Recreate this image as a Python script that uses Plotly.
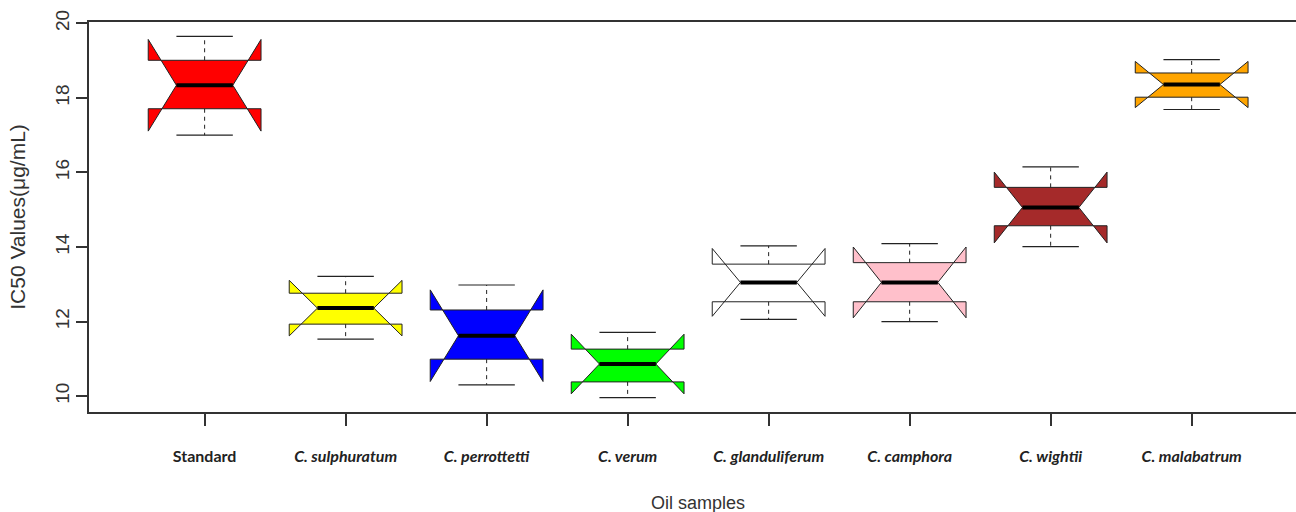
import plotly.graph_objects as go

# IC50 summary statistics per oil sample (µg/mL)
samples = ["Standard", "C. sulphuratum", "C. perrottetti", "C. verum",
           "C. glanduliferum", "C. camphora", "C. wightii", "C. malabatrum"]
whisker_low = [17.00, 11.53, 10.30, 9.96, 12.06, 12.00, 14.01, 17.69]
q1 = [17.71, 11.93, 10.99, 10.38, 12.53, 12.53, 14.57, 18.02]
median = [18.34, 12.36, 11.62, 10.86, 13.05, 13.05, 15.06, 18.36]
q3 = [19.01, 12.76, 12.31, 11.26, 13.54, 13.58, 15.60, 18.67]
whisker_high = [19.65, 13.21, 12.98, 11.71, 14.03, 14.09, 16.15, 19.03]
notch_half = [1.23, 0.745, 1.23, 0.80, 0.91, 0.95, 0.95, 0.62]
fills = ["#FF0000", "#FFFF00", "#0000FF", "#00FF00",
         "#FFFFFF", "#FFC0CB", "#A52A2A", "#FFA500"]

positions = list(range(1, len(samples) + 1))
BOX_W = 0.8        # full box width in axis units
CAP_HALF = 0.2     # half width of whisker caps and median bar
INK = "#222222"

fig = go.Figure()

# notched boxes (whiskers drawn separately as dashed lines)
for i, name in enumerate(samples):
    fig.add_trace(go.Box(
        x=[positions[i]], q1=[q1[i]], median=[median[i]], q3=[q3[i]],
        lowerfence=[q1[i]], upperfence=[q3[i]], notchspan=[notch_half[i]],
        notched=True, notchwidth=0.25, whiskerwidth=0, width=BOX_W,
        fillcolor=fills[i], line=dict(color=INK, width=1),
        name=name, showlegend=False, hoverinfo="skip",
    ))

# dashed whiskers
wx, wy = [], []
for i, p in enumerate(positions):
    wx += [p, p, None, p, p, None]
    wy += [q1[i], whisker_low[i], None, q3[i], whisker_high[i], None]
fig.add_trace(go.Scatter(x=wx, y=wy, mode="lines", showlegend=False,
                         hoverinfo="skip",
                         line=dict(color=INK, width=1, dash="4px,4px")))

# whisker caps
cx, cy = [], []
for i, p in enumerate(positions):
    for v in (whisker_low[i], whisker_high[i]):
        cx += [p - CAP_HALF, p + CAP_HALF, None]
        cy += [v, v, None]
fig.add_trace(go.Scatter(x=cx, y=cy, mode="lines", showlegend=False,
                         hoverinfo="skip", line=dict(color=INK, width=1.2)))

# heavy median bars
mx, my = [], []
for i, p in enumerate(positions):
    mx += [p - CAP_HALF, p + CAP_HALF, None]
    my += [median[i], median[i], None]
fig.add_trace(go.Scatter(x=mx, y=my, mode="lines", showlegend=False,
                         hoverinfo="skip", line=dict(color="black", width=4)))

# axis limits padded 4% like base graphics
lo, hi = min(whisker_low), max(whisker_high)
pad = 0.04 * (hi - lo)
x_lo = positions[0] - 0.5 - 0.04 * len(samples)

tick_text = ["<b>Standard</b>"] + [f"<b><i>{s}</i></b>" for s in samples[1:]]

fig.update_layout(
    width=1296, height=512,
    margin=dict(l=89, r=0, t=22, b=100),
    paper_bgcolor="white", plot_bgcolor="white",
    showlegend=False,
    xaxis=dict(
        range=[x_lo, 8.74], tickmode="array", tickvals=positions,
        ticktext=tick_text, ticks="outside", ticklen=12, tickcolor="#333",
        tickwidth=1.5, showline=True, mirror=True, linecolor="#333",
        linewidth=1.5, showgrid=False, zeroline=False,
        ticklabelstandoff=17,
        tickfont=dict(family="Lato, Open Sans, sans-serif", size=16,
                      color="#222"),
    ),
    yaxis=dict(
        range=[lo - pad, hi + pad], tickmode="array",
        tickvals=[10, 12, 14, 16, 18, 20], tickangle=-90,
        ticks="outside", ticklen=11, tickcolor="#333", tickwidth=1.5,
        showline=True, linecolor="#333", linewidth=1.5,
        showgrid=False, zeroline=False,
        tickfont=dict(family="Liberation Sans, Arial, sans-serif", size=19,
                      color="#333"),
        title=dict(text="IC50 Values(μg/mL)", standoff=20,
                   font=dict(family="Liberation Sans, Arial, sans-serif",
                             size=21, color="#333")),
    ),
    annotations=[dict(
        text="Oil samples", x=sum(positions) / len(positions), xref="x",
        y=-0.233, yref="paper", yanchor="middle", showarrow=False,
        font=dict(family="Liberation Sans Narrow, Arial Narrow, Liberation Sans, sans-serif",
                  size=18, color="#333"),
    )],
)

fig.write_html("out.html")
